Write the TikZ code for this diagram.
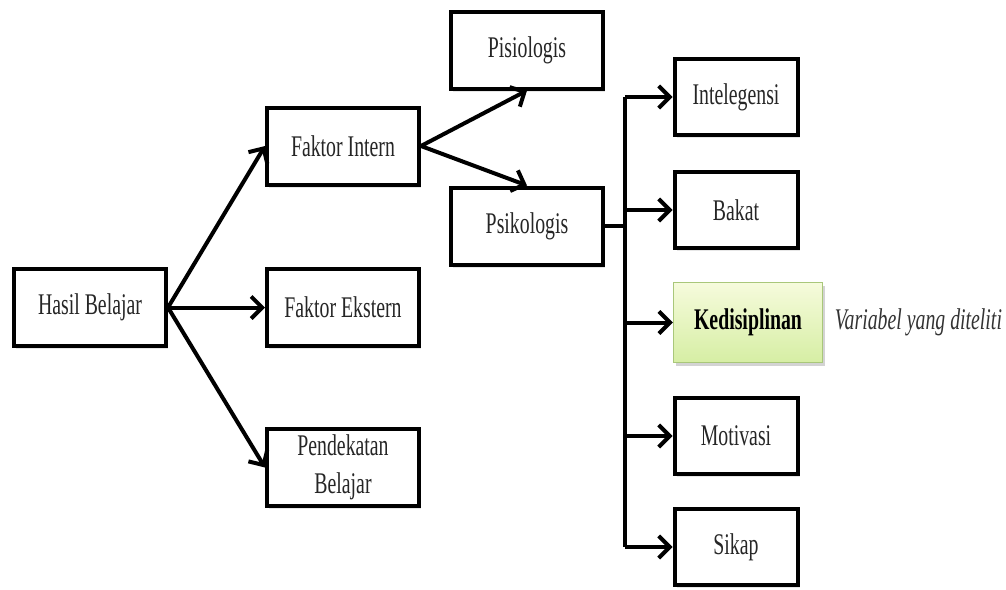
\documentclass[tikz,border=0pt]{standalone}
\usepackage{fontspec}
\setmainfont{Liberation Serif}[FakeStretch=0.66]
\usepackage{xcolor}
\usepackage{tikz}
\usetikzlibrary{positioning,shadows}
\usetikzlibrary{arrows.meta}
\definecolor{kedtop}{HTML}{F6FBDC}
\definecolor{kedbot}{HTML}{D6EEA4}
\definecolor{kedline}{HTML}{A9C77A}
\tikzset{>={Straight Barb[length=11pt,width=22pt]}}
\tikzstyle{plain-box}=[rectangle, draw=black, line width=4pt, fill=white, minimum width=152pt, minimum height=77pt, text=black!85, align=center, font=\fontsize{30}{38}\selectfont, drop shadow={shadow xshift=2pt, shadow yshift=-3pt, opacity=0.2}]
\tikzstyle{small-box}=[plain-box, minimum width=123pt, minimum height=76pt]
\tikzstyle{green-box}=[rectangle, draw=kedline, line width=1.5pt, top color=kedtop, bottom color=kedbot, minimum width=149pt, minimum height=80pt, font=\fontsize{30}{38}\selectfont\bfseries, drop shadow={shadow xshift=2pt, shadow yshift=-3pt, opacity=0.35}]
\tikzstyle{link}=[->, line width=4pt]

\begin{document}
\begin{tikzpicture}[x=1pt, y=-1pt]
	\useasboundingbox (0,0) rectangle (1006,589);

	\node[plain-box] (hasil) at (90,307.5) {Hasil Belajar};

	\node[plain-box] (intern) at (343,146) {Faktor Intern};
	\node[plain-box] (ekstern) at (343,307.5) {Faktor Ekstern};
	\node[plain-box] (pendekatan) at (343,467.5) {Pendekatan\\Belajar};

	\node[plain-box] (pisiologis) at (527,50) {Pisiologis};
	\node[plain-box] (psikologis) at (527,226) {Psikologis};

	\node[small-box] (intelegensi) at (736,97) {Intelegensi};
	\node[small-box] (bakat) at (736,210) {Bakat};
	\node[green-box] (kedisiplinan) at (748,322.5) {Kedisiplinan};
	\node[small-box] (motivasi) at (736,436) {Motivasi};
	\node[small-box] (sikap) at (736,547) {Sikap};

	\node[right=8pt of kedisiplinan, font=\fontsize{30}{38}\selectfont\itshape, text=black!80] (variabel) {Variabel yang diteliti};

	\foreach \n in {intern,ekstern,pendekatan}
	    \draw[link] (hasil.east) -- (\n.west);
	\draw[link] (intern.east) -- (pisiologis.south);
	\draw[link] (intern.east) -- (psikologis.north);

	% tree to the right column
	\coordinate (junction) at (625,226);
	\draw[line width=4pt] (psikologis.east) -- (junction);
	\draw[line width=4pt] (junction |- intelegensi.west) -- (junction |- sikap.west);
	\foreach \n in {intelegensi,bakat,kedisiplinan,motivasi,sikap}
	    \draw[link] (junction |- \n.west) -- (\n.west);
\end{tikzpicture}
\end{document}
